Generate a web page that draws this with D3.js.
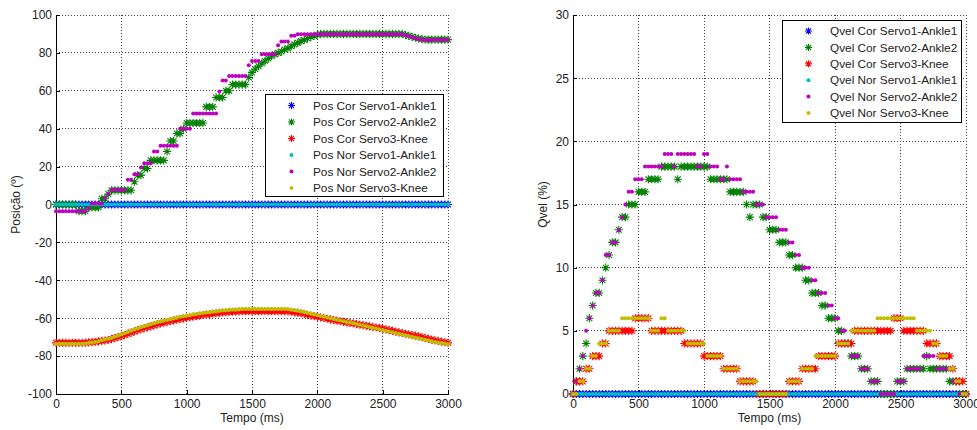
<!DOCTYPE html>
<html><head><meta charset="utf-8">
<script src="https://cdn.jsdelivr.net/npm/d3@7/dist/d3.min.js"></script>
<style>
body{margin:0;background:#fff;}
svg{display:block;font-family:"Liberation Sans",Arial,Helvetica,sans-serif;}
</style></head>
<body><svg id="chart" width="977" height="430"></svg>
<script>
// ---------- DATA ----------
const time = [
0,25,50,75,100,125,150,175,200,225,250,275,300,325,350,375,400,425,450,475,
500,525,550,575,600,625,650,675,700,725,750,775,800,825,850,875,900,925,950,975,
1000,1025,1050,1075,1100,1125,1150,1175,1200,1225,1250,1275,1300,1325,1350,1375,1400,1425,1450,1475,
1500,1525,1550,1575,1600,1625,1650,1675,1700,1725,1750,1775,1800,1825,1850,1875,1900,1925,1950,1975,
2000,2025,2050,2075,2100,2125,2150,2175,2200,2225,2250,2275,2300,2325,2350,2375,2400,2425,2450,2475,
2500,2525,2550,2575,2600,2625,2650,2675,2700,2725,2750,2775,2800,2825,2850,2875,2900,2925,2950,2975,
3000];

const posCorAnkle1 = [
0,0,0,0,0,0,0,0,0,0,0,0,0,0,0,0,0,0,0,0,
0,0,0,0,0,0,0,0,0,0,0,0,0,0,0,0,0,0,0,0,
0,0,0,0,0,0,0,0,0,0,0,0,0,0,0,0,0,0,0,0,
0,0,0,0,0,0,0,0,0,0,0,0,0,0,0,0,0,0,0,0,
0,0,0,0,0,0,0,0,0,0,0,0,0,0,0,0,0,0,0,0,
0,0,0,0,0,0,0,0,0,0,0,0,0,0,0,0,0,0,0,0,
0];
const posCorAnkle2 = [
0,0,0,0,0,0,0,-3.5,-3.5,-3.5,-1.5,-1.5,-1.5,-1.5,3,3,5.5,7.5,7.5,7.5,
7.5,7.5,7.5,7.5,12,15.5,15.5,19,19,23.3,23.3,23.3,23.3,23.3,28,33.5,33.5,37.5,37.5,40,
43,43,43,43,43,43,51.5,51.5,51.5,56.5,56.5,56.5,60,60,63.3,63.3,63.3,63.3,63.3,67,
69.7,71.5,73,74.5,75.7,77,78.4,79.3,80,80.7,81.8,82.4,83.5,84.5,85.3,86.2,86.8,87.6,88.4,89,
89.6,90,90,90,90,90,90,90,90,90,90,90,90,90,90,90,90,90,90,90,
90,90,90,90,90,90,90,89.5,89,88.5,88,87.6,87.3,87,87,87,87,87,87,87,
87];
const posCorKnee = [
-73,-73,-73,-73,-73,-73,-73,-73,-73,-72.9,-72.8,-72.6,-72.5,-72.2,-72,-71.8,-71.5,-71,-70.5,-70,
-69.5,-68.9,-68.3,-67.6,-67,-66.4,-65.9,-65.3,-64.8,-64.3,-63.8,-63.3,-62.8,-62.4,-62,-61.6,-61.2,-60.8,-60.5,-60.1,
-59.8,-59.5,-59.2,-58.9,-58.6,-58.3,-58.1,-57.8,-57.6,-57.4,-57.2,-57,-56.9,-56.7,-56.6,-56.5,-56.4,-56.3,-56.3,-56.3,
-56.3,-56.3,-56.3,-56.3,-56.3,-56.3,-56.3,-56.3,-56.3,-56.3,-56.3,-56.4,-56.6,-56.9,-57.1,-57.4,-57.8,-58.2,-58.6,-58.9,
-59.2,-59.6,-59.9,-60.3,-60.6,-61,-61.3,-61.6,-61.9,-62.2,-62.5,-62.8,-63.1,-63.4,-63.7,-64,-64.3,-64.6,-64.9,-65.2,
-65.5,-65.9,-66.3,-66.7,-67.1,-67.5,-67.8,-68.2,-68.5,-68.9,-69.2,-69.6,-70,-70.5,-70.9,-71.3,-71.7,-72,-72.4,-72.7,
-73];
const posNorAnkle1 = [
0,0,0,0,0,0,0,0,0,0,0,0,0,0,0,0,0,0,0,0,
0,0,0,0,0,0,0,0,0,0,0,0,0,0,0,0,0,0,0,0,
0,0,0,0,0,0,0,0,0,0,0,0,0,0,0,0,0,0,0,0,
0,0,0,0,0,0,0,0,0,0,0,0,0,0,0,0,0,0,0,0,
0,0,0,0,0,0,0,0,0,0,0,0,0,0,0,0,0,0,0,0,
0,0,0,0,0,0,0,0,0,0,0,0,0,0,0,0,0,0,0,0,
0];
const posNorAnkle2 = [
-3.5,-3.5,-3.5,-3.5,-3.5,-3.5,-3.5,-3.5,-3.5,-3.5,-2,0.5,0.5,0.5,0.5,3.5,5.5,7.8,7.8,7.8,
7.8,7.8,13,13,16,16,19.5,21.8,21.8,21.8,28,28,31,31,31,31,31,31,40,40,
40,40,48,48,48,48,48,48,48,48,59.6,65.5,65.5,67.8,67.8,67.8,67.8,67.8,67.8,73.5,
75.7,75.7,75.7,79.3,79.3,79.3,79.3,79.3,84,86,86,86,89,89,89.8,89.8,89.8,89.8,89.8,89.8,
89.8,89.8,89.8,89.8,89.8,89.8,89.8,89.8,89.8,89.8,89.8,89.8,89.8,89.8,89.8,89.8,89.8,89.8,89.8,89.8,
89.8,89.8,89.8,89.8,89.8,89.8,89.8,89.3,88.8,88.3,87.8,87.3,87,87,87,87,87,87,87,87,
87];
const posNorKnee = [
-73.5,-73.5,-73.5,-73.5,-73.5,-73.5,-73.5,-73.5,-73.5,-73.3,-73.1,-72.8,-72.5,-72.1,-71.7,-71.3,-70.9,-70.4,-69.8,-69.2,
-68.6,-68,-67.3,-66.6,-66,-65.4,-64.8,-64.2,-63.7,-63.2,-62.7,-62.2,-61.7,-61.3,-60.9,-60.5,-60.1,-59.7,-59.3,-59,
-58.7,-58.4,-58.1,-57.8,-57.5,-57.2,-57,-56.8,-56.6,-56.4,-56.2,-56,-55.9,-55.7,-55.6,-55.5,-55.4,-55.2,-55.2,-55.2,
-55.2,-55.2,-55.2,-55.2,-55.2,-55.2,-55.2,-55.2,-55.2,-55.2,-55.2,-55.3,-55.5,-55.8,-56.1,-56.5,-56.9,-57.3,-57.7,-58.1,
-58.4,-58.8,-59.2,-59.6,-60,-60.4,-60.8,-61.2,-61.6,-62,-62.3,-62.7,-63.1,-63.5,-63.9,-64.3,-64.6,-65,-65.4,-65.8,
-66.2,-66.6,-67,-67.4,-67.8,-68.2,-68.6,-69,-69.4,-69.8,-70.2,-70.6,-71,-71.4,-71.8,-72.1,-72.5,-72.8,-73.1,-73.4,
-73.6];

const qvelCorAnkle1 = [
0,0,0,0,0,0,0,0,0,0,0,0,0,0,0,0,0,0,0,0,
0,0,0,0,0,0,0,0,0,0,0,0,0,0,0,0,0,0,0,0,
0,0,0,0,0,0,0,0,0,0,0,0,0,0,0,0,0,0,0,0,
0,0,0,0,0,0,0,0,0,0,0,0,0,0,0,0,0,0,0,0,
0,0,0,0,0,0,0,0,0,0,0,0,0,0,0,0,0,0,0,0,
0,0,0,0,0,0,0,0,0,0,0,0,0,0,0,0,0,0,0,0,
0];
const qvelCorAnkle2 = [
0,1,2,3,4,6,7,8,8,9,10,11,12,12,13,14,14,15,15,15,
16,16,16,17,17,17,17,18,18,18,18,18,17,18,18,18,18,18,18,18,
18,18,17,17,17,17,17,17,16,16,16,16,16,15,14,15,15,15,14,14,
13,13,13,12,12,12,11,11,10,10,10,9,9,8,8,8,7,7,6,6,
6,5,5,4,4,3,3,3,2,2,2,1,1,1,0,0,0,0,0,1,
1,1,2,2,2,2,2,2,3,2,2,2,2,2,2,1,1,1,0,0,
0];
const qvelCorKnee = [
0,1,1,1,2,2,3,3,3,4,4,5,5,5,5,5,5,5,5,6,
6,6,6,6,5,5,5,5,5,5,5,5,5,5,4,4,4,4,4,4,
3,3,3,3,3,3,2,2,2,2,2,1,1,1,1,1,0,0,0,0,
0,0,0,0,0,0,1,1,1,1,2,2,2,2,2,3,3,3,3,3,
3,4,4,4,4,4,5,5,5,5,5,5,5,5,5,5,5,5,6,6,
6,5,5,5,5,5,5,5,4,4,4,4,3,3,3,3,2,1,1,1,
0];
const qvelNorAnkle1 = [
0,0,0,0,0,0,0,0,0,0,0,0,0,0,0,0,0,0,0,0,
0,0,0,0,0,0,0,0,0,0,0,0,0,0,0,0,0,0,0,0,
0,0,0,0,0,0,0,0,0,0,0,0,0,0,0,0,0,0,0,0,
0,0,0,0,0,0,0,0,0,0,0,0,0,0,0,0,0,0,0,0,
0,0,0,0,0,0,0,0,0,0,0,0,0,0,0,0,0,0,0,0,
0,0,0,0,0,0,0,0,0,0,0,0,0,0,0,0,0,0,0,0,
0];
const qvelNorAnkle2 = [
0,1,2,3,5,6,7,8,8,9,11,11,12,12,13,14,15,16,16,17,
17,17,18,18,18,18,18,18,19,19,19,18,19,19,19,19,19,19,18,18,
19,19,18,18,18,17,17,18,17,17,17,17,16,16,16,16,15,15,15,14,
14,14,14,13,13,13,12,12,11,11,10,10,10,9,9,8,8,8,7,7,
6,6,5,5,4,3,3,3,2,2,2,1,1,1,0,0,0,0,0,1,
1,1,2,2,2,2,2,3,3,3,3,2,2,2,2,2,1,1,0,0,
0];
const qvelNorKnee = [
0,0,1,1,2,2,3,3,4,4,4,5,5,5,5,6,6,6,6,6,
6,6,6,6,5,5,5,6,6,5,5,5,5,5,5,4,4,4,4,4,
4,3,3,3,3,3,2,2,2,2,2,1,1,1,1,1,1,0,0,0,
0,0,0,0,0,0,1,1,1,1,2,2,2,2,3,3,3,3,3,3,
3,4,4,4,4,5,5,5,5,5,5,5,5,6,6,6,6,6,6,6,
6,6,6,6,6,5,5,5,5,5,4,4,3,3,3,2,2,1,1,0,
0];

const xTicks = [0,500,1000,1500,2000,2500,3000];
const posTicks = [-100,-80,-60,-40,-20,0,20,40,60,80,100];
const qvelTicks = [0,5,10,15,20,25,30];

const posLabels = ["Pos Cor Servo1-Ankle1","Pos Cor Servo2-Ankle2","Pos Cor Servo3-Knee",
                   "Pos Nor Servo1-Ankle1","Pos Nor Servo2-Ankle2","Pos Nor Servo3-Knee"];
const qvelLabels = ["Qvel Cor Servo1-Ankle1","Qvel Cor Servo2-Ankle2","Qvel Cor Servo3-Knee",
                    "Qvel Nor Servo1-Ankle1","Qvel Nor Servo2-Ankle2","Qvel Nor Servo3-Knee"];
const seriesColors = ["#0000ff","#008000","#ff0000","#00bfbf","#bf00bf","#bfbf00"];
const seriesMarkers = ["star","star","star","dot","dot","dot"];

// ---------- DRAW ----------
const svg = d3.select("#chart");

function starPath(r){
  const a = r*0.7071;
  return `M${-r},0H${r}M0,${-r}V${r}M${-a},${-a}L${a},${a}M${-a},${a}L${a},${-a}`;
}

function drawMarker(g, type, color, x, y, small){
  if(type==="star"){
    g.append("path").attr("d", starPath(small ? 3.6 : 4.1)).attr("transform",`translate(${x},${y})`)
      .attr("stroke", color).attr("stroke-width",1.1).attr("fill","none");
  } else {
    g.append("circle").attr("cx",x).attr("cy",y).attr("r",2).attr("fill",color);
  }
}

function panel(opts){
  const {x0,x1,y0,y1,yDomain,yTicks,series,labels,yTitle,yTitleX,legend} = opts;
  const x = d3.scaleLinear().domain([0,3000]).range([x0,x1]);
  const y = d3.scaleLinear().domain(yDomain).range([y1,y0]);
  const g = svg.append("g");

  // grid
  const grid = g.append("g").attr("stroke","#404040").attr("stroke-width",1)
     .attr("stroke-dasharray","1,2").attr("shape-rendering","crispEdges");
  xTicks.forEach(t=>{ if(t>0) grid.append("line").attr("x1",x(t)).attr("x2",x(t)).attr("y1",y0).attr("y2",y1); });
  yTicks.forEach(t=>{ if(t>yDomain[0]) grid.append("line").attr("x1",x0).attr("x2",x1).attr("y1",y(t)).attr("y2",y(t)); });

  // axes
  const ax = g.append("g").attr("transform",`translate(0,${y1})`)
    .call(d3.axisBottom(x).tickValues(xTicks).tickFormat(d=>String(d)).tickSize(-4).tickSizeOuter(0).tickPadding(5));
  const ay = g.append("g").attr("transform",`translate(${x0},0)`)
    .call(d3.axisLeft(y).tickValues(yTicks).tickFormat(d=>String(d)).tickSize(-4).tickSizeOuter(0).tickPadding(4));
  [ax,ay].forEach(a=>{
    a.selectAll("text").attr("font-size",12).attr("fill","#222").attr("font-family","Liberation Sans, Arial, sans-serif");
    a.selectAll("line,path").attr("stroke","#000").attr("shape-rendering","crispEdges");
  });

  // axis titles
  g.append("text").attr("x",(x0+x1)/2).attr("y",422).attr("text-anchor","middle")
    .attr("font-size",12).attr("fill","#222").text("Tempo (ms)");
  g.append("text").attr("transform",`translate(${yTitleX},${(y0+y1)/2}) rotate(-90)`)
    .attr("text-anchor","middle").attr("font-size",12).attr("fill","#222").text(yTitle);

  // data
  const dg = g.append("g");
  series.forEach((s,k)=>{
    const sg = dg.append("g");
    s.forEach((v,i)=> drawMarker(sg, seriesMarkers[k], seriesColors[k], x(time[i]), y(v), false));
  });

  // legend
  const lg = g.append("g");
  lg.append("rect").attr("x",legend.x).attr("y",legend.y).attr("width",legend.w).attr("height",legend.h)
    .attr("fill","#fff").attr("stroke","#000").attr("stroke-width",1).attr("shape-rendering","crispEdges");
  labels.forEach((lab,k)=>{
    const cy = legend.y + legend.first + k*legend.step;
    drawMarker(lg, seriesMarkers[k], seriesColors[k], legend.x + legend.mx, cy, true);
    lg.append("text").attr("x",legend.x+legend.tx).attr("y",cy).attr("dy","0.35em")
      .attr("font-size",11.8).attr("fill","#222").text(lab);
  });
}

panel({x0:56,x1:448,y0:15,y1:394,yDomain:[-100,100],yTicks:posTicks,
  series:[posCorAnkle1,posCorAnkle2,posCorKnee,posNorAnkle1,posNorAnkle2,posNorKnee],
  labels:posLabels,yTitle:"Posição (º)",yTitleX:20,
  legend:{x:265.5,y:94.5,w:178,h:102,first:11,step:16.5,mx:26,tx:47.5}});

panel({x0:573,x1:966,y0:15,y1:394,yDomain:[0,30],yTicks:qvelTicks,
  series:[qvelCorAnkle1,qvelCorAnkle2,qvelCorKnee,qvelNorAnkle1,qvelNorAnkle2,qvelNorKnee],
  labels:qvelLabels,yTitle:"Qvel (%)",yTitleX:547,
  legend:{x:782.5,y:20.5,w:179,h:102,first:10.5,step:16.4,mx:26,tx:47.5}});
</script>
</body></html>
